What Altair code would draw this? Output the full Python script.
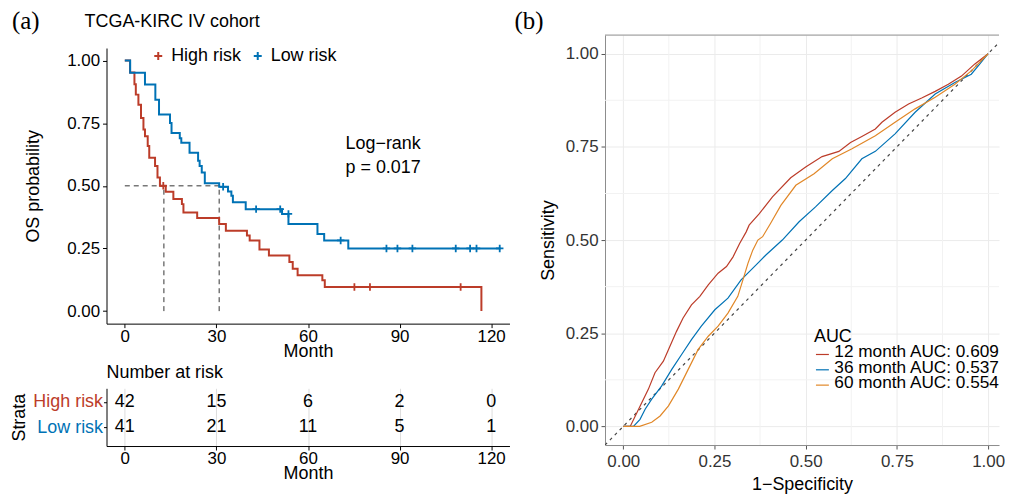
import altair as alt
import pandas as pd

FONT = "Liberation Sans"
RED = "#BC3C29"
BLUE = "#0072B5"
ORANGE = "#E18727"
BORDER = "#8C8C8C"
PLUS = "M-1,0H1M0,-1V1"

# ---------------- Kaplan-Meier data ----------------
groups = ["High risk", "Low risk"]
high_t = [0, 1.7, 3.15, 3.6, 4.45, 5.3, 6.1, 6.6, 7.5, 8.0, 9.9, 10.7, 11.5, 13.4, 15.9, 18.7,
          19.2, 23.7, 30.9, 33.1, 40.0, 40.9, 44.1, 47.2, 53.9, 55.0, 56.6, 64.7, 65.5, 116.8, 116.8]
high_s = [1.0, 0.952, 0.905, 0.864, 0.824, 0.771, 0.725, 0.698, 0.659, 0.612, 0.579, 0.533, 0.5,
          0.476, 0.447, 0.427, 0.394, 0.372, 0.348, 0.321, 0.302, 0.282, 0.246, 0.222, 0.196,
          0.169, 0.143, 0.123, 0.096, 0.096, 0.0]
low_t = [0, 1.75, 6.6, 10.0, 11.2, 14.8, 15.3, 18.0, 18.5, 21.2, 24.0, 24.5, 25.2, 26.2, 30.9,
         33.8, 34.9, 35.4, 39.6, 51.5, 53.6, 63.1, 65.3, 73.2, 123.1]
low_s = [1.0, 0.951, 0.904, 0.844, 0.785, 0.751, 0.711, 0.69, 0.672, 0.632, 0.6, 0.579, 0.553,
         0.51, 0.496, 0.477, 0.46, 0.434, 0.407, 0.388, 0.348, 0.308, 0.282, 0.25, 0.25]
high_cens_t = [12.6, 75.2, 80.3, 110.0]
high_cens_s = [0.5, 0.096, 0.096, 0.096]
low_cens_t = [32.2, 43.0, 50.9, 53.6, 70.7, 85.7, 89.3, 94.2, 108.4, 113.1, 115.2, 122.8]
low_cens_s = [0.496, 0.407, 0.407, 0.388, 0.282, 0.25, 0.25, 0.25, 0.25, 0.25, 0.25, 0.25]
median_t = [12.8, 30.9]
risk_times = [0, 30, 60, 90, 120]
risk_high = [42, 15, 6, 2, 0]
risk_low = [41, 21, 11, 5, 1]
logrank_lines = ["Log\u2212rank", "p = 0.017"]
logrank_t = [72.3, 72.3]
logrank_s = [0.648, 0.552]

# ---------------- ROC data ----------------
roc_labels = ["12 month AUC: 0.609", "36 month AUC: 0.537", "60 month AUC: 0.554"]
roc_colors = [RED, BLUE, ORANGE]
roc12_x = [0, 0.019, 0.033, 0.051, 0.069, 0.087, 0.11, 0.128, 0.146, 0.164, 0.187, 0.21, 0.233,
           0.26, 0.283, 0.301, 0.319, 0.337, 0.345, 0.373, 0.409, 0.459, 0.5, 0.545, 0.591,
           0.623, 0.654, 0.691, 0.709, 0.745, 0.782, 0.818, 0.855, 0.891, 0.927, 0.963, 1.0]
roc12_y = [0, 0, 0.028, 0.064, 0.1, 0.144, 0.175, 0.215, 0.255, 0.291, 0.326, 0.349, 0.38,
           0.411, 0.429, 0.455, 0.491, 0.522, 0.54, 0.571, 0.616, 0.667, 0.696, 0.724, 0.738,
           0.762, 0.778, 0.798, 0.816, 0.843, 0.865, 0.881, 0.899, 0.918, 0.94, 0.972, 1.0]
roc36_x = [0, 0.028, 0.046, 0.06, 0.078, 0.105, 0.133, 0.16, 0.187, 0.214, 0.251, 0.287, 0.323,
           0.369, 0.391, 0.436, 0.482, 0.527, 0.573, 0.609, 0.654, 0.691, 0.745, 0.8, 0.855,
           0.909, 0.954, 0.977, 1.0]
roc36_y = [0, 0, 0.019, 0.046, 0.073, 0.108, 0.153, 0.193, 0.233, 0.269, 0.313, 0.344, 0.393,
           0.438, 0.46, 0.5, 0.549, 0.589, 0.633, 0.665, 0.718, 0.738, 0.785, 0.843, 0.892,
           0.923, 0.945, 0.972, 1.0]
roc60_x = [0, 0.045, 0.078, 0.101, 0.124, 0.151, 0.178, 0.205, 0.233, 0.26, 0.287, 0.314, 0.328,
           0.342, 0.355, 0.369, 0.382, 0.404, 0.432, 0.473, 0.523, 0.573, 0.627, 0.691, 0.745,
           0.8, 0.855, 0.909, 0.954, 1.0]
roc60_y = [0, 0, 0.011, 0.028, 0.055, 0.1, 0.153, 0.206, 0.242, 0.269, 0.304, 0.349, 0.393,
           0.438, 0.473, 0.5, 0.509, 0.545, 0.593, 0.647, 0.678, 0.718, 0.745, 0.78, 0.816,
           0.852, 0.883, 0.918, 0.954, 1.0]
major_breaks = [0, 0.25, 0.5, 0.75, 1.0]
minor_breaks = [0.125, 0.375, 0.625, 0.875]
diag = [-0.05, 1.05]
roc_x_domain = [-0.05, 1.03]   # right part of the panel lies beyond the picture's edge
roc_y_domain = [-0.05, 1.05]

# ---------------- tables ----------------
km_df = pd.concat([
    pd.DataFrame({"t": high_t, "s": high_s, "g": groups[0], "o": range(len(high_t))}),
    pd.DataFrame({"t": low_t, "s": low_s, "g": groups[1], "o": range(len(low_t))}),
])
cens_df = pd.concat([
    pd.DataFrame({"t": high_cens_t, "s": high_cens_s, "g": groups[0]}),
    pd.DataFrame({"t": low_cens_t, "s": low_cens_s, "g": groups[1]}),
])
med_h_df = pd.DataFrame({"t": [0], "t2": [max(median_t)], "s": [0.5]})
med_v_df = pd.DataFrame({"t": median_t, "s": [0.0] * len(median_t), "s2": [0.5] * len(median_t)})
lr_df = pd.DataFrame({"t": logrank_t, "s": logrank_s, "txt": logrank_lines})
risk_df = pd.DataFrame({"t": risk_times * 2,
                        "g": [groups[0]] * len(risk_times) + [groups[1]] * len(risk_times),
                        "n": risk_high + risk_low})
roc_df = pd.concat([
    pd.DataFrame({"x": roc12_x, "y": roc12_y, "c": roc_labels[0], "o": range(len(roc12_x))}),
    pd.DataFrame({"x": roc36_x, "y": roc36_y, "c": roc_labels[1], "o": range(len(roc36_x))}),
    pd.DataFrame({"x": roc60_x, "y": roc60_y, "c": roc_labels[2], "o": range(len(roc60_x))}),
])

# ---------------- scales ----------------
t_scale = alt.Scale(domain=[-6, 126], nice=False, zero=False)
s_scale = alt.Scale(domain=[-0.05, 1.05], nice=False, zero=False)
g_color = alt.Scale(domain=groups, range=[RED, BLUE])
roc_xs = alt.Scale(domain=roc_x_domain, nice=False, zero=False)
roc_ys = alt.Scale(domain=roc_y_domain, nice=False, zero=False)
roc_color = alt.Scale(domain=roc_labels, range=roc_colors)

KM_W, KM_H = 405, 277
TB_H = 58
ROC_W, ROC_H = 396, 412

km_x_axis = alt.Axis(values=risk_times, title="Month", labelFontSize=17, titleFontSize=18,
                     labelColor="black", titleColor="black", domainColor="black", tickColor="black",
                     tickSize=4, labelPadding=1, titlePadding=-2, grid=False,
                     titleFontWeight="normal")
km_y_axis = alt.Axis(values=major_breaks, format=".2f", title="OS probability", labelFontSize=17,
                     titleFontSize=18, labelColor="black", titleColor="black", domainColor="black",
                     tickColor="black", tickSize=4, labelPadding=3, titlePadding=24, grid=False,
                     titleFontWeight="normal")

km_legend = alt.Legend(
    title=None, orient="none", legendX=43, legendY=-1, direction="horizontal",
    symbolType=PLUS, symbolStrokeWidth=2, symbolSize=64, labelFontSize=18, labelFont=FONT,
    labelColor="black", labelOffset=4, columnPadding=7, symbolOpacity=1, padding=0)

km_lines = alt.Chart(km_df).mark_line(interpolate="step-after", strokeWidth=2).encode(
    x=alt.X("t:Q", scale=t_scale, axis=km_x_axis),
    y=alt.Y("s:Q", scale=s_scale, axis=km_y_axis),
    color=alt.Color("g:N", scale=g_color, legend=km_legend),
    order="o:Q",
)
km_cens = alt.Chart(cens_df).mark_point(shape=PLUS, filled=False, strokeWidth=1.8, size=56, opacity=1).encode(
    x=alt.X("t:Q", scale=t_scale),
    y=alt.Y("s:Q", scale=s_scale),
    color=alt.Color("g:N", scale=g_color, legend=km_legend),
)
km_med_h = alt.Chart(med_h_df).mark_rule(strokeDash=[5, 4], color="#333333", strokeWidth=1).encode(
    x=alt.X("t:Q", scale=t_scale), x2="t2:Q", y=alt.Y("s:Q", scale=s_scale))
km_med_v = alt.Chart(med_v_df).mark_rule(strokeDash=[5, 4], color="#333333", strokeWidth=1).encode(
    x=alt.X("t:Q", scale=t_scale), y=alt.Y("s:Q", scale=s_scale), y2="s2:Q")
km_text = alt.Chart(lr_df).mark_text(align="left", baseline="alphabetic", fontSize=18, font=FONT,
                                     color="black").encode(
    x=alt.X("t:Q", scale=t_scale), y=alt.Y("s:Q", scale=s_scale), text="txt:N")

km = alt.layer(km_med_h, km_med_v, km_lines, km_cens, km_text).properties(width=KM_W, height=KM_H)

table = alt.Chart(risk_df).mark_text(fontSize=18, font=FONT, color="black").encode(
    x=alt.X("t:Q", scale=t_scale, axis=alt.Axis(
        values=risk_times, title="Month", labelFontSize=17, titleFontSize=18, labelColor="black",
        titleColor="black", domainColor="black", tickColor="black", tickSize=4, labelPadding=1,
        titlePadding=-2, titleFontWeight="normal")),
    y=alt.Y("g:N", scale=alt.Scale(type="point", padding=0.633, align=0.423), sort=groups,
            axis=alt.Axis(
        title="Strata", labelFontSize=18, titleFontSize=18, titleColor="black",
        labelColor={"condition": {"test": "datum.value === 'High risk'", "value": RED}, "value": BLUE},
        domainColor="black", tickColor="black", tickSize=3, labelPadding=1, titlePadding=4,
        titleFontWeight="normal")),
    text="n:Q",
).properties(width=KM_W, height=TB_H, title=alt.Title(
    "Number at risk", anchor="start", frame="group", fontSize=18, font=FONT, fontWeight="normal",
    offset=6, color="black"))

spacer = alt.layer(
    alt.Chart(pd.DataFrame({"txt": ["(a)"]})).mark_text(
        align="left", baseline="alphabetic", fontSize=25, font="Liberation Serif",
        color="black").encode(x=alt.value(-95), y=alt.value(-6), text="txt:N"),
    alt.Chart(pd.DataFrame({"txt": ["TCGA-KIRC IV cohort"]})).mark_text(
        align="left", baseline="alphabetic", fontSize=18, font=FONT, color="black").encode(
        x=alt.value(-22), y=alt.value(-8), text="txt:N"),
).properties(width=KM_W, height=12.6)

left = alt.vconcat(spacer, alt.vconcat(km, table, spacing=65, bounds="flush"),
                   spacing=0, bounds="flush").resolve_scale(color="independent")

# ---------------- ROC panel ----------------
roc_axis_common = dict(values=major_breaks, format=".2f", labelFontSize=17, titleFontSize=18,
                       labelColor="#333333", titleColor="black", tickColor="#555555", tickSize=4,
                       domain=True, domainColor=BORDER, grid=True, gridColor="#EBEBEB",
                       gridWidth=1, titleFontWeight="normal")
minor_x = alt.Chart(pd.DataFrame({"v": minor_breaks})).mark_rule(color="#F2F2F2", strokeWidth=1).encode(
    x=alt.X("v:Q", scale=roc_xs))
minor_y = alt.Chart(pd.DataFrame({"v": minor_breaks})).mark_rule(color="#F2F2F2", strokeWidth=1).encode(
    y=alt.Y("v:Q", scale=roc_ys))
roc_diag = alt.Chart(pd.DataFrame({"x": diag, "y": diag})).mark_line(
    strokeDash=[3, 4], color="#444444", strokeWidth=1.2, clip=True).encode(
    x=alt.X("x:Q", scale=roc_xs), y=alt.Y("y:Q", scale=roc_ys))
roc_lines = alt.Chart(roc_df).mark_line(strokeWidth=1.2).encode(
    x=alt.X("x:Q", scale=roc_xs, axis=alt.Axis(title="1\u2212Specificity", labelPadding=5,
                                               titlePadding=6, **roc_axis_common)),
    y=alt.Y("y:Q", scale=roc_ys, axis=alt.Axis(title="Sensitivity", labelPadding=3,
                                               titlePadding=8, **roc_axis_common)),
    color=alt.Color("c:N", scale=roc_color, legend=None),
    detail="c:N",
    order="o:Q",
)
top_border = alt.Chart(pd.DataFrame({"k": [0]})).mark_rule(color=BORDER, strokeWidth=1).encode(
    x=alt.value(0), x2=alt.value(ROC_W), y=alt.value(0))
b_label = alt.Chart(pd.DataFrame({"txt": ["(b)"]})).mark_text(
    align="left", baseline="alphabetic", fontSize=25, font="Liberation Serif", color="black").encode(
    x=alt.value(-91), y=alt.value(-6), text="txt:N")

# legend for the ROC curves, drawn inside the panel
leg_layers = [alt.Chart(pd.DataFrame({"txt": ["AUC"]})).mark_text(
    align="left", baseline="alphabetic", fontSize=18, font=FONT, color="black").encode(
    x=alt.value(210), y=alt.value(308), text="txt:N")]
for i, (lab, col) in enumerate(zip(roc_labels, roc_colors)):
    d = pd.DataFrame({"txt": [lab]})
    leg_layers.append(alt.Chart(d).mark_rule(color=col, strokeWidth=1.2).encode(
        x=alt.value(212), x2=alt.value(225), y=alt.value(321 + 15.4 * i)))
    leg_layers.append(alt.Chart(d).mark_text(
        align="left", baseline="alphabetic", fontSize=17.3, font=FONT, color="black").encode(
        x=alt.value(230.5), y=alt.value(324 + 15.5 * i), text="txt:N"))

roc = alt.layer(minor_x, minor_y, roc_diag, roc_lines, top_border, b_label, *leg_layers).properties(
    width=ROC_W, height=ROC_H)

chart = alt.hconcat(left, roc, spacing=5, bounds="full").resolve_scale(color="independent").properties(
    padding={"left": 2, "top": 0, "right": 0, "bottom": 0}
).configure(font=FONT).configure_view(stroke=None)

chart.save("out.html", embed_options={"renderer": "svg", "actions": False})
